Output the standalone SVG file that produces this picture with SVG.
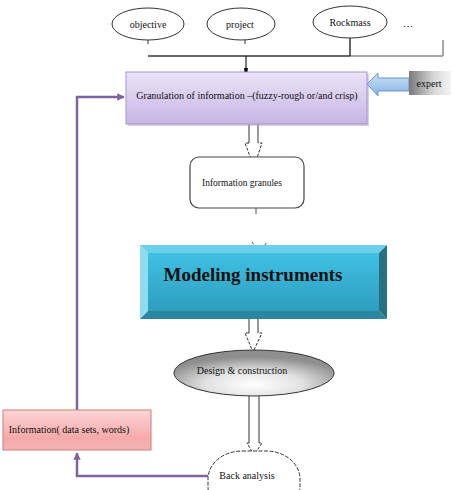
<svg xmlns="http://www.w3.org/2000/svg" width="454" height="490" viewBox="0 0 454 490">
<defs>
<style>
text{font-family:"Liberation Serif","Times New Roman",serif;fill:#111;}
.lbl{font-size:10px;text-anchor:middle;}
.top{fill:#fff;stroke:#333;stroke-width:1;}
.hollow{fill:#fff;stroke:#333;stroke-width:1;}
.head{fill:none;stroke:#333;stroke-width:1;stroke-dasharray:3 1.5;}
.purple{fill:none;stroke:#8064a2;stroke-width:2.5;}
</style>
<linearGradient id="gGran" x1="0" y1="0" x2="0" y2="1">
<stop offset="0" stop-color="#ebe3f7"/>
<stop offset="1" stop-color="#c6b5e6"/>
</linearGradient>
<linearGradient id="gPink" x1="0" y1="0" x2="0" y2="1">
<stop offset="0" stop-color="#fcd6d6"/>
<stop offset="0.7" stop-color="#f6a9a9"/>
<stop offset="1" stop-color="#f3b4b4"/>
</linearGradient>
<linearGradient id="gExpert" x1="0" y1="0" x2="1" y2="0">
<stop offset="0" stop-color="#7a7a7a"/>
<stop offset="0.6" stop-color="#d8d8d8"/>
<stop offset="1" stop-color="#f4f4f4"/>
</linearGradient>
<linearGradient id="gBlueArrow" x1="0" y1="0" x2="0" y2="1">
<stop offset="0" stop-color="#c9e0f7"/>
<stop offset="0.5" stop-color="#a9cbee"/>
<stop offset="1" stop-color="#84b2e2"/>
</linearGradient>
<linearGradient id="gModel" x1="0" y1="0" x2="0" y2="1">
<stop offset="0" stop-color="#40c0e2"/>
<stop offset="1" stop-color="#2d9ebf"/>
</linearGradient>
<radialGradient id="gDesign" cx="0.5" cy="0.75" r="0.6">
<stop offset="0" stop-color="#ffffff"/>
<stop offset="0.5" stop-color="#e2e2e2"/>
<stop offset="1" stop-color="#8e8e8e"/>
</radialGradient>
<marker id="mPurple" viewBox="0 0 10 10" refX="9" refY="5" markerWidth="3" markerHeight="3" orient="auto">
<path d="M0,0 L10,5 L0,10 z" fill="#8064a2"/>
</marker>
<marker id="mBlack" viewBox="0 0 10 10" refX="9" refY="5" markerWidth="4" markerHeight="4" orient="auto">
<path d="M0,1 L10,2 L10,8 L0,9 z" fill="#000"/>
</marker>
</defs>

<g id="connectors">
<line x1="148" y1="40" x2="148" y2="44" stroke="#333" stroke-width="1"/>
<line x1="245" y1="40" x2="245" y2="44" stroke="#333" stroke-width="1"/>
<line x1="148" y1="56" x2="350" y2="56" stroke="#333" stroke-width="1.5"/>
<line x1="350" y1="56" x2="443" y2="56" stroke="#8a8a8a" stroke-width="1.5"/>
<line x1="350" y1="38" x2="350" y2="56" stroke="#333" stroke-width="1.5"/>
<line x1="443" y1="40" x2="443" y2="56" stroke="#8a8a8a" stroke-width="1.5"/>
<line x1="246" y1="56" x2="246" y2="72" stroke="#222" stroke-width="1.2" marker-end="url(#mBlack)"/>
<path d="M367,84 L378,73 L378,78 L409,78 L409,91 L378,91 L378,96 z" fill="url(#gBlueArrow)" stroke="#6b98c9" stroke-width="1"/>
<path d="M249,108 L249,143 L245,143 L254,167 L262,143 L258,143 L258,108" fill="#fff" stroke="none"/>
<path d="M249,108 L249,143 M258,143 L258,108" class="hollow"/>
<path d="M249,143 L245,143 L254,167 L262,143 L258,143" class="head"/>
<line x1="256" y1="208" x2="256" y2="214" stroke="#555" stroke-width="1"/>
<path d="M252,242 L259,253 L267,242" fill="none" stroke="#555" stroke-width="1" stroke-dasharray="3 1.5"/>
<path d="M249,306 L249,333 L245,333 L253,352 L262,333 L258,333 L258,306" fill="#fff" stroke="none"/>
<path d="M249,306 L249,333 M258,333 L258,306" class="hollow"/>
<path d="M249,333 L245,333 L253,352 L262,333 L258,333" class="head"/>
<path d="M249,395 L249,443 L247,443 L254,455 L262,443 L259,443 L259,395" fill="#fff" stroke="none"/>
<path d="M249,395 L249,443 M259,443 L259,395" class="hollow"/>
<path d="M249,443 L247,443 L254,455 L262,443 L259,443" class="head"/>
<polyline class="purple" points="208,476 77,476 77,453" marker-end="url(#mPurple)"/>
<polyline class="purple" points="77,410 77,97 124,97" marker-end="url(#mPurple)"/>
</g>

<g id="objective">
<ellipse class="top" cx="148" cy="24" rx="36" ry="16"/>
<text class="lbl" x="148" y="28">objective</text>
</g>
<g id="project">
<ellipse class="top" cx="241" cy="24" rx="34" ry="16"/>
<text class="lbl" x="240" y="28">project</text>
</g>
<g id="rockmass">
<ellipse class="top" cx="350" cy="22" rx="37" ry="16"/>
<text class="lbl" x="350" y="26">Rockmass</text>
</g>
<g id="dots">
<text class="lbl" x="408" y="27" fill="#555">…</text>
</g>

<g id="granulation">
<rect x="128" y="74" width="241" height="52" fill="#b0a0cc" opacity="0.5"/>
<rect x="126" y="72" width="241" height="52" fill="url(#gGran)" stroke="#a893cf" stroke-width="1"/>
<text class="lbl" x="247" y="99">Granulation of information –(fuzzy-rough or/and crisp)</text>
</g>

<g id="expert">
<rect x="409" y="71" width="42" height="24" fill="url(#gExpert)"/>
<text class="lbl" x="429" y="87">expert</text>
</g>

<g id="granules">
<rect x="190" y="157" width="114" height="51" rx="9" fill="#fff" stroke="#444" stroke-width="1.2"/>
<text class="lbl" x="242" y="186" style="font-size:9.5px">Information granules</text>
</g>

<g id="modeling">
<rect x="148" y="253" width="231" height="58" fill="url(#gModel)"/>
<polygon points="140,245 387,245 379,253 148,253" fill="#6ad0ec"/>
<polygon points="140,245 148,253 148,311 140,319" fill="#8fdcf0"/>
<polygon points="387,245 387,319 379,311 379,253" fill="#27707f"/>
<polygon points="140,319 387,319 379,311 148,311" fill="#2b879f"/>
<text x="253" y="281" style="font-size:19px;font-weight:bold;text-anchor:middle;">Modeling instruments</text>
</g>

<g id="design">
<ellipse cx="254" cy="373" rx="80" ry="23" fill="url(#gDesign)" stroke="#333" stroke-width="1"/>
<text class="lbl" x="242" y="374">Design  &amp; construction</text>
</g>

<g id="information">
<rect x="3" y="410" width="148" height="40" fill="url(#gPink)" stroke="#d47a7a" stroke-width="1"/>
<text class="lbl" x="69" y="433">Information( data sets, words)</text>
</g>

<g id="back">
<rect x="208" y="451" width="92" height="64" rx="34" ry="28" fill="#fff" stroke="#333" stroke-width="1" stroke-dasharray="4 1.5"/>
<text class="lbl" x="247" y="479">Back analysis</text>
</g>
</svg>
